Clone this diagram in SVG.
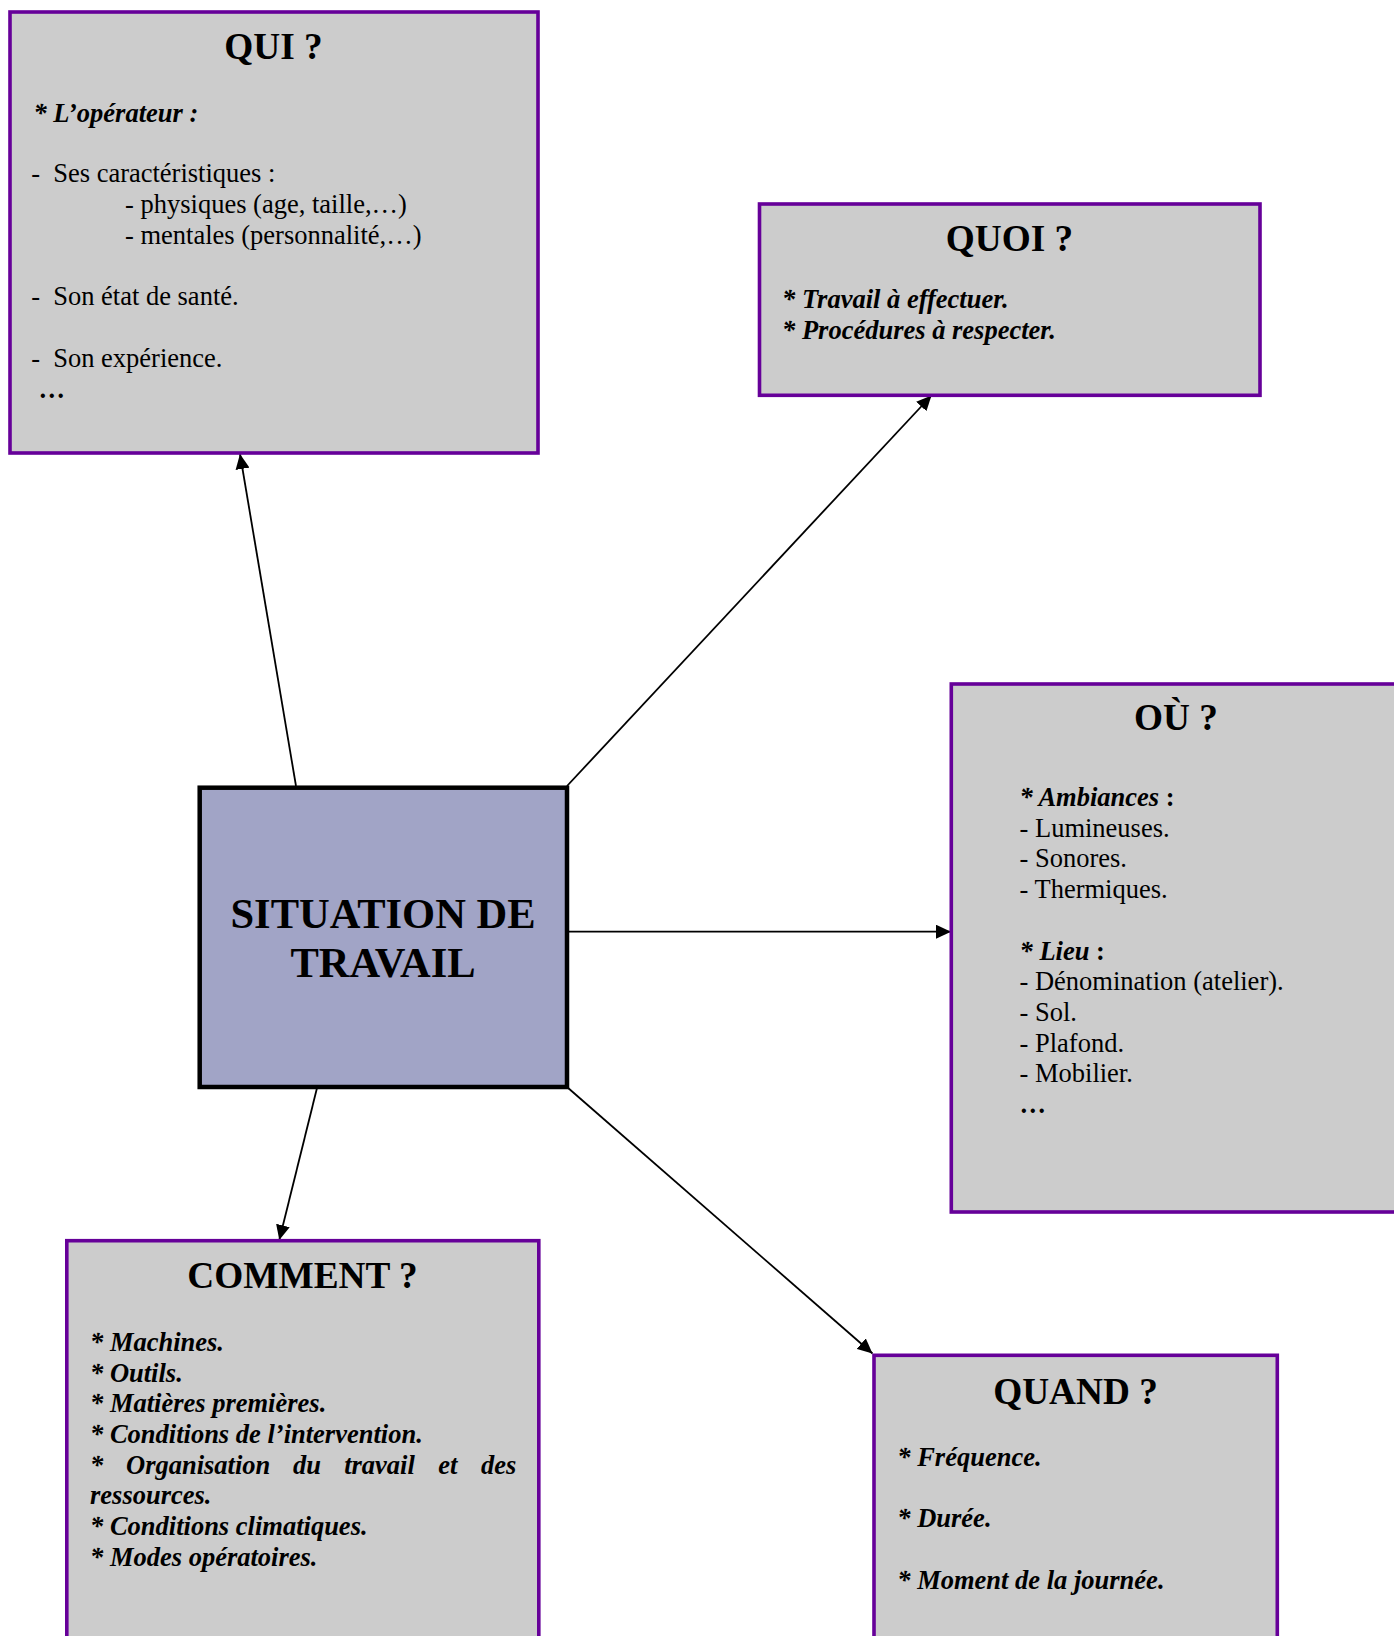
<svg xmlns="http://www.w3.org/2000/svg" width="1394" height="1636" viewBox="0 0 1394 1636">
  <defs>
    <marker id="arrow" markerUnits="userSpaceOnUse" markerWidth="16" markerHeight="14" refX="15" refY="7" orient="auto">
      <path d="M0,0 L15,7 L0,14 z" fill="#000"/>
    </marker>
    <style>
      .box { fill: #cccccc; stroke: #660099; stroke-width: 3.6; }
      .center { fill: #a1a4c6; stroke: #000; stroke-width: 4.5; }
      .title { font-family: "Liberation Serif", "Times New Roman", serif; font-weight: bold; font-size: 37.3px; text-anchor: middle; fill: #000; }
      .ctitle { font-family: "Liberation Serif", "Times New Roman", serif; font-weight: bold; font-size: 42.5px; text-anchor: middle; fill: #000; }
      .t { font-family: "Liberation Serif", "Times New Roman", serif; font-size: 26.5px; fill: #000; }
      .bi { font-weight: bold; font-style: italic; }
      .b { font-weight: bold; }
      .conn line { stroke: #000; stroke-width: 1.8; marker-end: url(#arrow); }
    </style>
  </defs>

  <rect width="1394" height="1636" fill="#ffffff"/>

  <!-- connectors -->
  <g id="connectors" class="conn">
    <line x1="296" y1="786" x2="240" y2="454"/>
    <line x1="567" y1="786" x2="931.5" y2="395.5"/>
    <line x1="569" y1="931.7" x2="951" y2="931.7"/>
    <line x1="317" y1="1088" x2="279.3" y2="1240"/>
    <line x1="567" y1="1087" x2="872.5" y2="1353.5"/>
  </g>

  <!-- central node -->
  <g id="situation">
    <rect class="center" x="199.7" y="787.7" width="367.3" height="299.3"/>
    <text class="ctitle" x="383" y="927.5">SITUATION DE</text>
    <text class="ctitle" x="383" y="976.7">TRAVAIL</text>
  </g>

  <!-- QUI -->
  <g id="qui">
    <rect class="box" x="10" y="12" width="528" height="441"/>
    <text class="title" x="273.5" y="58.5">QUI ?</text>
    <text class="t bi" x="33.4" y="121.5">* L’opérateur :</text>
    <text class="t" x="31.3" y="182.3">-</text>
    <text class="t" x="53.2" y="182.3">Ses caractéristiques :</text>
    <text class="t" x="125" y="213">- physiques (age, taille,…)</text>
    <text class="t" x="125" y="243.7">- mentales (personnalité,…)</text>
    <text class="t" x="31.3" y="305.3">-</text>
    <text class="t" x="53.2" y="305.3">Son état de santé.</text>
    <text class="t" x="31.3" y="366.8">-</text>
    <text class="t" x="53.2" y="366.8">Son expérience.</text>
    <text class="t b" x="38.6" y="397.5">…</text>
  </g>

  <!-- QUOI -->
  <g id="quoi">
    <rect class="box" x="759.5" y="204" width="500.5" height="191.3"/>
    <text class="title" x="1009.5" y="250.5">QUOI ?</text>
    <text class="t bi" x="782" y="308">* Travail à effectuer.</text>
    <text class="t bi" x="782" y="338.5">* Procédures à respecter.</text>
  </g>

  <!-- OÙ -->
  <g id="ou">
    <rect class="box" x="951.3" y="684" width="460" height="528"/>
    <text class="title" x="1176" y="730">OÙ ?</text>
    <text class="t" x="1019.5" y="806"><tspan class="bi">* Ambiances</tspan><tspan class="b"> :</tspan></text>
    <text class="t" x="1019.5" y="836.7">- Lumineuses.</text>
    <text class="t" x="1019.5" y="867.4">- Sonores.</text>
    <text class="t" x="1019.5" y="898.1">- Thermiques.</text>
    <text class="t" x="1019.5" y="959.5"><tspan class="bi">* Lieu</tspan><tspan class="b"> :</tspan></text>
    <text class="t" x="1019.5" y="990.2">- Dénomination (atelier).</text>
    <text class="t" x="1019.5" y="1020.9">- Sol.</text>
    <text class="t" x="1019.5" y="1051.6">- Plafond.</text>
    <text class="t" x="1019.5" y="1082.3">- Mobilier.</text>
    <text class="t b" x="1019.5" y="1113">…</text>
  </g>

  <!-- COMMENT -->
  <g id="comment">
    <rect class="box" x="66.8" y="1240.7" width="472" height="420"/>
    <text class="title" x="302.5" y="1288.3">COMMENT ?</text>
    <text class="t bi" x="90" y="1350.8">* Machines.</text>
    <text class="t bi" x="90" y="1381.5">* Outils.</text>
    <text class="t bi" x="90" y="1412.2">* Matières premières.</text>
    <text class="t bi" x="90" y="1442.9">* Conditions de l’intervention.</text>
    <text class="t bi" y="1473.6"><tspan x="90">*</tspan><tspan x="126">Organisation</tspan><tspan x="293">du</tspan><tspan x="344.2">travail</tspan><tspan x="438.2">et</tspan><tspan x="481">des</tspan></text>
    <text class="t bi" x="90" y="1504.3">ressources.</text>
    <text class="t bi" x="90" y="1535">* Conditions climatiques.</text>
    <text class="t bi" x="90" y="1565.7">* Modes opératoires.</text>
  </g>

  <!-- QUAND -->
  <g id="quand">
    <rect class="box" x="874" y="1355.3" width="403.3" height="300"/>
    <text class="title" x="1075.5" y="1403.5">QUAND ?</text>
    <text class="t bi" x="897.3" y="1466">* Fréquence.</text>
    <text class="t bi" x="897.3" y="1527.4">* Durée.</text>
    <text class="t bi" x="897.3" y="1588.8">* Moment de la journée.</text>
  </g>
</svg>
